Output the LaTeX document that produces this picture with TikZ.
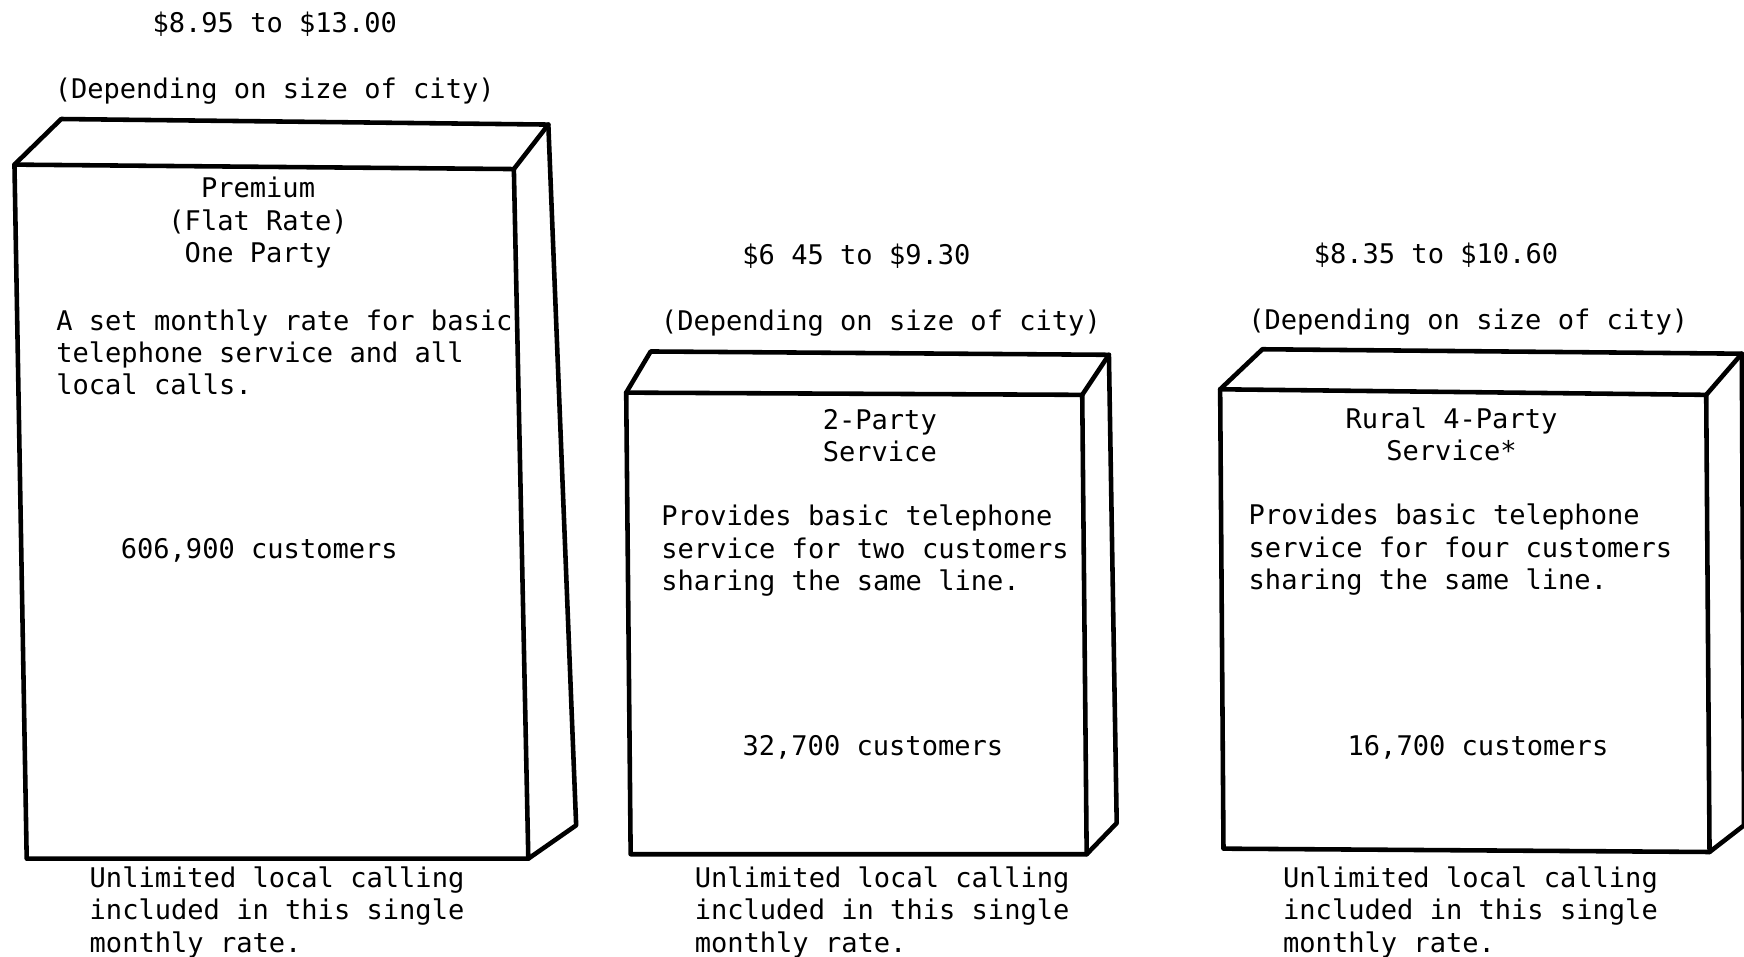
\documentclass[tikz,border=0pt]{standalone}
\usepackage{fontspec}
\setmonofont{DejaVu Sans Mono}
\begin{document}
\begin{tikzpicture}[x=0.011122cm,y=-0.011122cm,
  txt/.style={font=\ttfamily\fontsize{7.7}{9.2}\selectfont,inner sep=0pt},
  ctr/.style={txt,align=center,anchor=base},
  lft/.style={txt,align=left,anchor=base west},
  edge/.style={line width=1.3pt,line join=round,line cap=round}]
\useasboundingbox (0,0) rectangle (1568,860);
% ---------- box 1
\coordinate (A1) at (13,148);  \coordinate (B1) at (462,152);
\coordinate (C1) at (475,772); \coordinate (D1) at (24,772);
\coordinate (E1) at (55,107);  \coordinate (F1) at (493,112);
\coordinate (G1) at (518,742);
\draw[edge] (D1) -- (A1) -- (E1) -- (F1) -- (G1) -- (C1) -- cycle;
\draw[edge] (A1) -- (B1) -- (C1);
\draw[edge] (B1) -- (F1);
% ---------- box 2
\coordinate (A2) at (563,353); \coordinate (B2) at (973,355);
\coordinate (C2) at (977,768); \coordinate (D2) at (567,768);
\coordinate (E2) at (585,316); \coordinate (F2) at (997,319);
\coordinate (G2) at (1004,740);
\draw[edge] (D2) -- (A2) -- (E2) -- (F2) -- (G2) -- (C2) -- cycle;
\draw[edge] (A2) -- (B2) -- (C2);
\draw[edge] (B2) -- (F2);
% ---------- box 3
\coordinate (A3) at (1097,350); \coordinate (B3) at (1534,355);
\coordinate (C3) at (1537,766); \coordinate (D3) at (1100,763);
\coordinate (E3) at (1135,314); \coordinate (F3) at (1566,318);
\coordinate (G3) at (1568,742);
\draw[edge] (D3) -- (A3) -- (E3) -- (F3) -- (G3) -- (C3) -- cycle;
\draw[edge] (A3) -- (B3) -- (C3);
\draw[edge] (B3) -- (F3);
% ---------- texts box 1
\node[ctr] (p1) at (247,29) {\$8.95 to \$13.00};
\node[ctr] (d1) at (247,89) {(Depending on size of city)};
\node[ctr] (t1) at (232,236) {Premium\\(Flat Rate)\\One Party};
\node[lft] (s1) at (50,355) {A set monthly rate for basic\\telephone service and all\\local calls.};
\node[lft] (c1) at (108,502) {606,900 customers};
\node[lft] (u1) at (80,856) {Unlimited local calling\\included in this single\\monthly rate.};
% ---------- texts box 2
\node[ctr] (p2) at (770,238) {\$6 45 to \$9.30};
\node[ctr] (d2) at (792,297) {(Depending on size of city)};
\node[ctr] (t2) at (791,415) {2-Party\\Service};
\node[lft] (s2) at (594,531) {Provides basic telephone\\service for two customers\\sharing the same line.};
\node[lft] (c2) at (667,679) {32,700 customers};
\node[lft] (u2) at (624,856) {Unlimited local calling\\included in this single\\monthly rate.};
% ---------- texts box 3
\node[ctr] (p3) at (1291,237) {\$8.35 to \$10.60};
\node[ctr] (d3) at (1320,296) {(Depending on size of city)};
\node[ctr] (t3) at (1305,414) {Rural 4-Party\\Service*};
\node[lft] (s3) at (1122,530) {Provides basic telephone\\service for four customers\\sharing the same line.};
\node[lft] (c3) at (1211,679) {16,700 customers};
\node[lft] (u3) at (1153,856) {Unlimited local calling\\included in this single\\monthly rate.};
\end{tikzpicture}
\end{document}
